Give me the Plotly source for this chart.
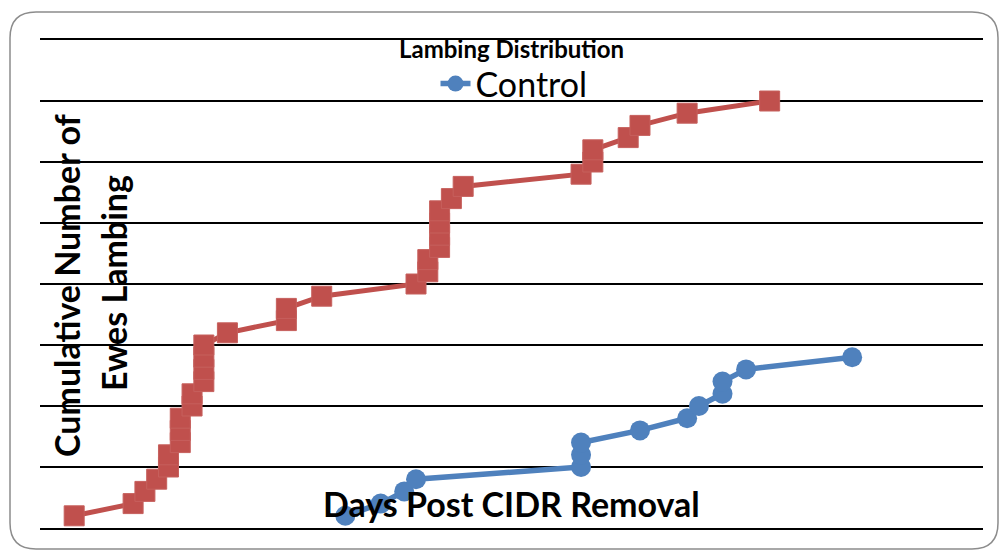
import plotly.graph_objects as go

# ---- data ----
treat_days = [3, 8, 9, 10, 11, 11, 12, 12, 12, 13, 13, 14, 14, 14, 14, 16, 21, 21, 24,
              32, 33, 33, 34, 34, 34, 34, 35, 36, 46, 47, 47, 50, 51, 55, 62]
treat_counts = [1, 2, 3, 4, 5, 6, 7, 8, 9, 10, 11, 12, 13, 14, 15, 16, 17, 18, 19,
                20, 21, 22, 23, 24, 25, 26, 27, 28, 29, 30, 31, 32, 33, 34, 35]
control_days = [26, 29, 31, 32, 46, 46, 46, 51, 55, 56, 58, 58, 60, 69]
control_counts = [1, 2, 3, 4, 5, 6, 7, 8, 9, 10, 11, 12, 13, 14]

title_text = "Lambing Distribution"
x_title = "Days Post CIDR Removal"
y_title_lines = ["Cumulative Number of", "Ewes Lambing"]

# ---- layout geometry helpers (pixel -> paper) ----
W, H = 1000, 552
L, R, T, B = 40, 17, 40, 24
PW, PH = W - L - R, H - T - B


def px(x):
    return (x - L) / PW


def py(y):
    return (H - B - y) / PH


RED = "#C0504D"
BLUE = "#4F81BD"
FONT = "Lato"

fig = go.Figure()
fig.add_trace(go.Scatter(
    x=control_days, y=control_counts, name="Control", mode="lines+markers",
    line=dict(color=BLUE, width=5.5),
    marker=dict(symbol="circle", size=20, color=BLUE),
    cliponaxis=False,
))
fig.add_trace(go.Scatter(
    x=treat_days, y=treat_counts, name="Treatment", mode="lines+markers",
    line=dict(color=RED, width=5),
    marker=dict(symbol="square", size=20, color=RED,
                line=dict(color="#C6605D", width=1)),
    showlegend=False, cliponaxis=False,
))

# rounded outer frame
x0, y0, x1, y1, r = 10, 12, 998, 549, 26
path = (
    f"M {px(x0 + r)},{py(y0)} L {px(x1 - r)},{py(y0)} "
    f"Q {px(x1)},{py(y0)} {px(x1)},{py(y0 + r)} "
    f"L {px(x1)},{py(y1 - r)} Q {px(x1)},{py(y1)} {px(x1 - r)},{py(y1)} "
    f"L {px(x0 + r)},{py(y1)} Q {px(x0)},{py(y1)} {px(x0)},{py(y1 - r)} "
    f"L {px(x0)},{py(y0 + r)} Q {px(x0)},{py(y0)} {px(x0 + r)},{py(y0)} Z"
)
fig.add_shape(type="path", path=path, xref="paper", yref="paper",
              line=dict(color="#8C8C8C", width=1.5), layer="below")

annots = [
    dict(text=title_text, x=px(511), y=py(48), font=dict(size=24, weight="bold")),
    dict(text=x_title, x=px(511), y=py(503), font=dict(size=34, weight="bold")),
    dict(text=y_title_lines[0], x=px(66), y=py(285), textangle=-90,
         font=dict(size=34, weight="bold")),
    dict(text=y_title_lines[1], x=px(113), y=py(283), textangle=-90,
         font=dict(size=34, weight="bold")),
]
for a in annots:
    a["font"].update(family=FONT, color="black")
    fig.add_annotation(xref="paper", yref="paper", xanchor="center", yanchor="middle",
                       showarrow=False, **a)

fig.update_layout(
    width=W, height=H,
    margin=dict(l=L, r=R, t=T, b=B),
    paper_bgcolor="white", plot_bgcolor="white",
    font=dict(family=FONT, color="black"),
    showlegend=True,
    legend=dict(orientation="h", x=px(514), y=py(84), xanchor="center", yanchor="middle",
                font=dict(family=FONT, size=34, color="black"),
                bgcolor="rgba(0,0,0,0)", itemwidth=30),
    xaxis=dict(range=[0.1, 80.1], showgrid=False, zeroline=False, showticklabels=False,
               ticks="", showline=True, mirror=True, linecolor="#000000", linewidth=1.6),
    yaxis=dict(range=[0, 40], dtick=5, showgrid=True, gridcolor="#000000", gridwidth=1.6,
               zeroline=True, zerolinecolor="#000000", zerolinewidth=1.6,
               showticklabels=False, ticks="", showline=False),
)

fig.write_html("out.html", config={"displayModeBar": False},
               post_script="document.body.style.margin='0px';")
